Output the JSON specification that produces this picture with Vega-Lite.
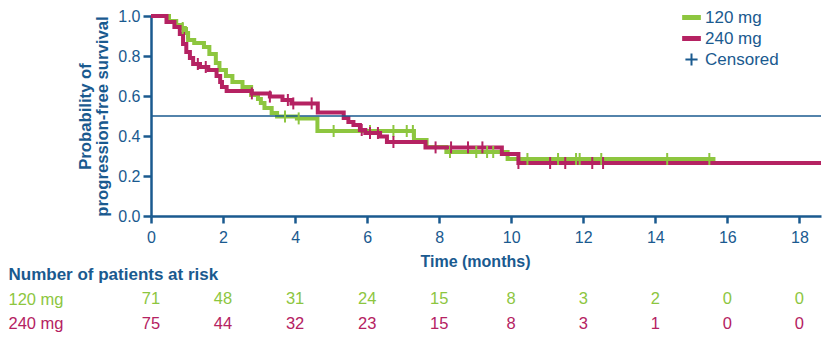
{
  "$schema": "https://vega.github.io/schema/vega-lite/v6.json",
  "padding": {"left": 8, "top": 8, "right": 0, "bottom": 0},
  "background": "white",
  "bounds": "flush",
  "spacing": 46,
  "config": {"view": {"stroke": null}, "font": "Liberation Sans", "axis": {"labelOverlap": false, "grid": false}},
  "datasets": {
    "ref": [{"y": 0.5}],
    "curves": [
      {"group": "120 mg", "t": 0, "s": 1.0},
      {"group": "120 mg", "t": 0.5, "s": 0.975},
      {"group": "120 mg", "t": 0.7, "s": 0.955},
      {"group": "120 mg", "t": 0.85, "s": 0.94},
      {"group": "120 mg", "t": 0.94, "s": 0.915},
      {"group": "120 mg", "t": 1.03, "s": 0.88},
      {"group": "120 mg", "t": 1.2, "s": 0.865},
      {"group": "120 mg", "t": 1.47, "s": 0.845},
      {"group": "120 mg", "t": 1.62, "s": 0.81},
      {"group": "120 mg", "t": 1.8, "s": 0.765},
      {"group": "120 mg", "t": 1.9, "s": 0.73},
      {"group": "120 mg", "t": 2.08, "s": 0.70},
      {"group": "120 mg", "t": 2.26, "s": 0.67},
      {"group": "120 mg", "t": 2.54, "s": 0.645},
      {"group": "120 mg", "t": 2.78, "s": 0.605},
      {"group": "120 mg", "t": 2.97, "s": 0.585},
      {"group": "120 mg", "t": 3.05, "s": 0.565},
      {"group": "120 mg", "t": 3.15, "s": 0.54},
      {"group": "120 mg", "t": 3.35, "s": 0.515},
      {"group": "120 mg", "t": 3.5, "s": 0.497},
      {"group": "120 mg", "t": 4.05, "s": 0.488},
      {"group": "120 mg", "t": 4.62, "s": 0.425},
      {"group": "120 mg", "t": 7.3, "s": 0.38},
      {"group": "120 mg", "t": 7.65, "s": 0.345},
      {"group": "120 mg", "t": 8.2, "s": 0.32},
      {"group": "120 mg", "t": 9.9, "s": 0.285},
      {"group": "120 mg", "t": 15.67, "s": 0.285},
      {"group": "240 mg", "t": 0, "s": 1.0},
      {"group": "240 mg", "t": 0.43, "s": 0.97},
      {"group": "240 mg", "t": 0.65, "s": 0.945},
      {"group": "240 mg", "t": 0.8, "s": 0.91},
      {"group": "240 mg", "t": 0.89, "s": 0.86},
      {"group": "240 mg", "t": 0.98, "s": 0.82},
      {"group": "240 mg", "t": 1.08, "s": 0.79},
      {"group": "240 mg", "t": 1.17, "s": 0.76},
      {"group": "240 mg", "t": 1.36, "s": 0.745},
      {"group": "240 mg", "t": 1.59, "s": 0.73},
      {"group": "240 mg", "t": 1.82, "s": 0.70},
      {"group": "240 mg", "t": 1.92, "s": 0.67},
      {"group": "240 mg", "t": 1.97, "s": 0.645},
      {"group": "240 mg", "t": 2.1, "s": 0.625},
      {"group": "240 mg", "t": 2.8, "s": 0.613},
      {"group": "240 mg", "t": 3.3, "s": 0.597},
      {"group": "240 mg", "t": 3.65, "s": 0.58},
      {"group": "240 mg", "t": 3.9, "s": 0.563},
      {"group": "240 mg", "t": 4.63, "s": 0.517},
      {"group": "240 mg", "t": 5.35, "s": 0.49},
      {"group": "240 mg", "t": 5.48, "s": 0.47},
      {"group": "240 mg", "t": 5.62, "s": 0.455},
      {"group": "240 mg", "t": 5.8, "s": 0.43},
      {"group": "240 mg", "t": 5.95, "s": 0.415},
      {"group": "240 mg", "t": 6.36, "s": 0.397},
      {"group": "240 mg", "t": 6.55, "s": 0.37},
      {"group": "240 mg", "t": 7.62, "s": 0.343},
      {"group": "240 mg", "t": 9.74, "s": 0.31},
      {"group": "240 mg", "t": 10.2, "s": 0.265},
      {"group": "240 mg", "t": 18.6, "s": 0.265}
    ],
    "censored": [
      {"group": "120 mg", "t": 0.88, "s": 0.94},
      {"group": "120 mg", "t": 1.0, "s": 0.915},
      {"group": "120 mg", "t": 3.72, "s": 0.497},
      {"group": "120 mg", "t": 4.1, "s": 0.488},
      {"group": "120 mg", "t": 5.07, "s": 0.425},
      {"group": "120 mg", "t": 6.08, "s": 0.425},
      {"group": "120 mg", "t": 6.73, "s": 0.425},
      {"group": "120 mg", "t": 7.1, "s": 0.425},
      {"group": "120 mg", "t": 7.27, "s": 0.425},
      {"group": "120 mg", "t": 8.3, "s": 0.32},
      {"group": "120 mg", "t": 9.03, "s": 0.32},
      {"group": "120 mg", "t": 9.33, "s": 0.32},
      {"group": "120 mg", "t": 9.5, "s": 0.32},
      {"group": "120 mg", "t": 10.45, "s": 0.285},
      {"group": "120 mg", "t": 11.3, "s": 0.285},
      {"group": "120 mg", "t": 11.8, "s": 0.285},
      {"group": "120 mg", "t": 11.9, "s": 0.285},
      {"group": "120 mg", "t": 12.5, "s": 0.285},
      {"group": "120 mg", "t": 14.33, "s": 0.285},
      {"group": "120 mg", "t": 15.5, "s": 0.285},
      {"group": "240 mg", "t": 1.3, "s": 0.76},
      {"group": "240 mg", "t": 1.52, "s": 0.745},
      {"group": "240 mg", "t": 2.8, "s": 0.613},
      {"group": "240 mg", "t": 3.3, "s": 0.597},
      {"group": "240 mg", "t": 3.8, "s": 0.58},
      {"group": "240 mg", "t": 3.95, "s": 0.563},
      {"group": "240 mg", "t": 4.46, "s": 0.563},
      {"group": "240 mg", "t": 5.85, "s": 0.43},
      {"group": "240 mg", "t": 6.08, "s": 0.415},
      {"group": "240 mg", "t": 6.3, "s": 0.415},
      {"group": "240 mg", "t": 6.73, "s": 0.37},
      {"group": "240 mg", "t": 7.9, "s": 0.343},
      {"group": "240 mg", "t": 8.33, "s": 0.343},
      {"group": "240 mg", "t": 8.8, "s": 0.343},
      {"group": "240 mg", "t": 9.2, "s": 0.343},
      {"group": "240 mg", "t": 10.2, "s": 0.265},
      {"group": "240 mg", "t": 11.08, "s": 0.265},
      {"group": "240 mg", "t": 11.5, "s": 0.265},
      {"group": "240 mg", "t": 12.25, "s": 0.265},
      {"group": "240 mg", "t": 12.55, "s": 0.265}
    ],
    "risk": [
      {"group": "120 mg", "t": 0, "n": 71},
      {"group": "120 mg", "t": 2, "n": 48},
      {"group": "120 mg", "t": 4, "n": 31},
      {"group": "120 mg", "t": 6, "n": 24},
      {"group": "120 mg", "t": 8, "n": 15},
      {"group": "120 mg", "t": 10, "n": 8},
      {"group": "120 mg", "t": 12, "n": 3},
      {"group": "120 mg", "t": 14, "n": 2},
      {"group": "120 mg", "t": 16, "n": 0},
      {"group": "120 mg", "t": 18, "n": 0},
      {"group": "240 mg", "t": 0, "n": 75},
      {"group": "240 mg", "t": 2, "n": 44},
      {"group": "240 mg", "t": 4, "n": 32},
      {"group": "240 mg", "t": 6, "n": 23},
      {"group": "240 mg", "t": 8, "n": 15},
      {"group": "240 mg", "t": 10, "n": 8},
      {"group": "240 mg", "t": 12, "n": 3},
      {"group": "240 mg", "t": 14, "n": 1},
      {"group": "240 mg", "t": 16, "n": 0},
      {"group": "240 mg", "t": 18, "n": 0}
    ]
  },
  "resolve": {"scale": {"color": "independent"}, "legend": {"color": "independent"}},
  "vconcat": [
    {
      "width": 670,
      "height": 200,
      "layer": [
        {
          "data": {"name": "curves"},
          "mark": {"type": "line", "interpolate": "step-after", "strokeWidth": 4},
          "encoding": {
            "x": {"field": "t", "type": "quantitative", "scale": {"domain": [0, 18.6], "nice": false, "zero": true},
              "axis": {"tickCount": 30, "values": [0, 2, 4, 6, 8, 10, 12, 14, 16, 18], "format": "d", "title": "Time (months)",
                "labelFontSize": 16, "labelColor": "#1a5a8f", "labelPadding": 6, "labelFlush": false,
                "tickSize": 7, "tickWidth": 2.5, "tickColor": "#1a5a8f", "domainColor": "#1a5a8f", "domainWidth": 2.5,
                "titleFontSize": 16, "titleFontWeight": "bold", "titleColor": "#1a5a8f", "titlePadding": 8, "titleX": 324}},
            "y": {"field": "s", "type": "quantitative", "scale": {"domain": [0, 1], "nice": false},
              "axis": {"tickCount": 20, "values": [0, 0.2, 0.4, 0.6, 0.8, 1], "format": ".1f",
                "title": ["Probability of", "progression-free survival"],
                "labelFontSize": 16, "labelColor": "#1a5a8f", "labelPadding": 3, "labelFlush": false,
                "tickSize": 8, "tickWidth": 2.5, "tickColor": "#1a5a8f", "domainColor": "#1a5a8f", "domainWidth": 2.5,
                "titleFontSize": 16.7, "titleFontWeight": "bold", "titleColor": "#1a5a8f", "titlePadding": 6, "titleLineHeight": 17}},
            "color": {"field": "group", "type": "nominal",
              "scale": {"domain": ["120 mg", "240 mg", "Censored"], "range": ["#8dc63f", "#b52262", "#1a5a8f"]},
              "legend": {"title": null, "orient": "none", "legendX": 532, "legendY": -7, "padding": 0,
                "labelFontSize": 17, "labelColor": "#1a5a8f", "labelOffset": 5, "rowPadding": 0,
                "symbolSize": 350,
                "symbolType": {"expr": "datum.value === 'Censored' ? 'M-0.65,0H0.65M0,-0.65V0.65' : 'stroke'"},
                "symbolStrokeWidth": {"expr": "datum.value === 'Censored' ? 2 : 5"}}}
          }
        },
        {
          "data": {"name": "ref"},
          "mark": {"type": "rule", "color": "#1a5a8f", "strokeWidth": 1.5},
          "encoding": {"y": {"field": "y", "type": "quantitative"}}
        },
        {
          "data": {"name": "censored"},
          "mark": {"type": "point", "shape": "M0,-1V1", "size": 144, "strokeWidth": 2, "filled": false, "opacity": 1},
          "encoding": {
            "x": {"field": "t", "type": "quantitative"},
            "y": {"field": "s", "type": "quantitative"},
            "color": {"field": "group", "type": "nominal"}
          }
        }
      ]
    },
    {
      "width": 670,
      "height": 74,
      "data": {"name": "risk"},
      "mark": {"type": "text", "fontSize": 16.5, "baseline": "middle", "align": "center"},
      "encoding": {
        "x": {"field": "t", "type": "quantitative", "scale": {"domain": [0, 18.6], "nice": false}, "axis": null},
        "y": {"field": "group", "type": "nominal",
          "scale": {"domain": ["Number of patients at risk", "120 mg", "240 mg"], "paddingInner": 0, "paddingOuter": 0},
          "axis": {"title": null, "domain": false, "ticks": false, "tickSize": 0, "labelAlign": "left", "labelPadding": 143, "labelLimit": 400,
            "labelFontSize": {"expr": "datum.value === 'Number of patients at risk' ? 17 : 16.5"},
            "labelFontWeight": {"expr": "datum.value === 'Number of patients at risk' ? 'bold' : 'normal'"},
            "labelColor": {"expr": "datum.value === '120 mg' ? '#8dc63f' : datum.value === '240 mg' ? '#b52262' : '#1a5a8f'"}}},
        "text": {"field": "n", "type": "quantitative"},
        "color": {"field": "group", "type": "nominal",
          "scale": {"domain": ["120 mg", "240 mg"], "range": ["#8dc63f", "#b52262"]}, "legend": null}
      }
    }
  ]
}
